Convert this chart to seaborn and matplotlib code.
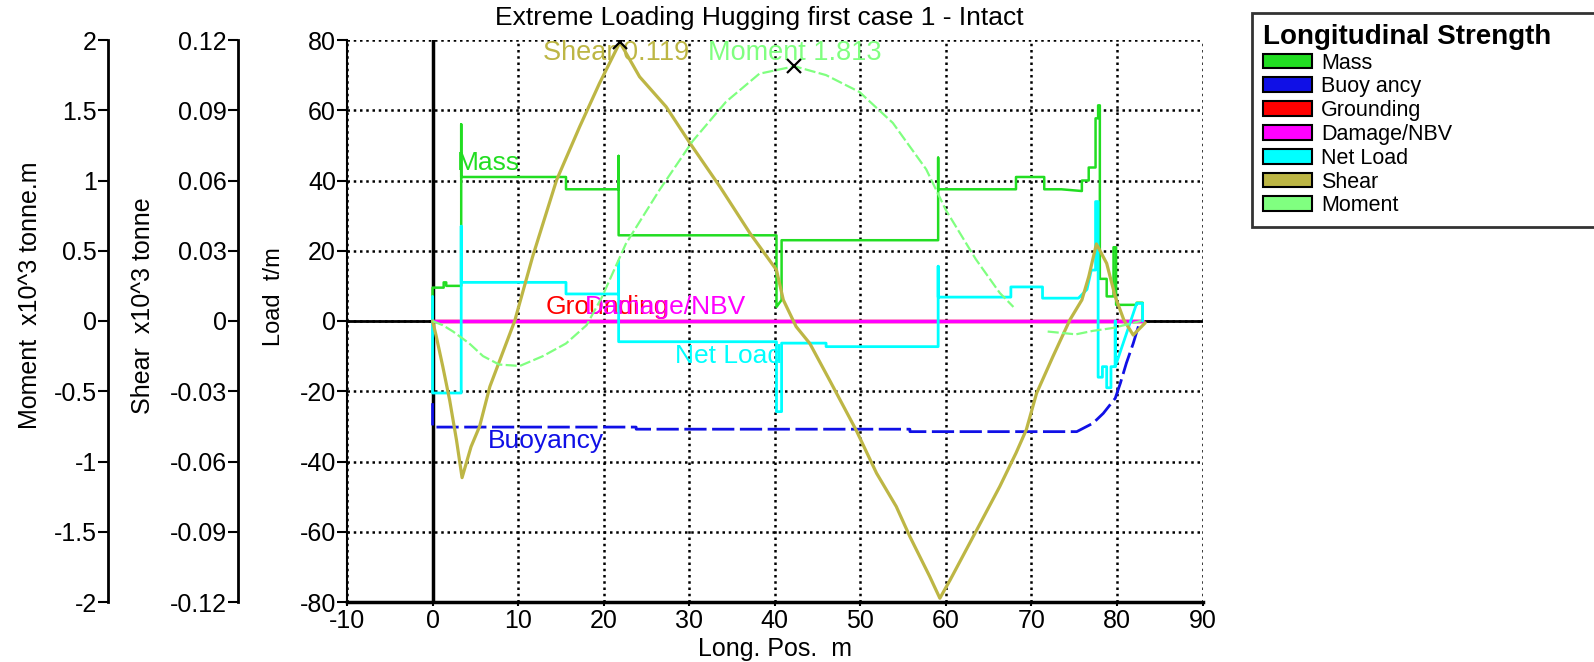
import matplotlib
matplotlib.use('Agg')
import matplotlib.pyplot as plt
from matplotlib.patches import Patch
import seaborn as sns
import pandas as pd

# ---- data ----
# load curves, t/m
mass_x = [0, 0, 1.3, 1.3, 1.6, 1.6, 3.35, 3.35, 3.35, 15.6, 15.6, 21.75, 21.75, 21.75,
          40.2, 40.2, 40.8, 40.8, 59.1, 59.1, 59.1, 68.2, 68.2, 71.5, 71.5, 73.5, 75.9, 75.9,
          76.7, 76.7, 77.5, 77.5, 77.8, 77.8, 78.0, 78.0, 78.8, 78.8, 79.6, 79.6, 79.9, 79.9,
          82.3, 82.3, 83.0, 83.0]
mass_y = [0, 9.5, 9.5, 11, 11, 10, 10, 56, 41, 41, 37.5, 37.5, 47, 24.4,
          24.4, 4, 6, 23, 23, 46.5, 37.5, 37.5, 41, 41, 37.5, 37.5, 37, 40,
          40, 43.7, 43.7, 57.7, 57.7, 61.4, 61.4, 12, 12, 7, 7, 21, 21, 4.6,
          4.6, 5.2, 5.2, 0]

buoy_x = [0, 0, 23.8, 23.8, 55.8, 55.8, 75.3, 77.2, 78.4, 79.8, 80.4, 81.1, 81.9, 82.5, 82.7]
buoy_y = [-23.4, -30.2, -30.2, -30.8, -30.8, -31.5, -31.5, -29.1, -26.3, -22, -17.7, -12, -6.4, -1.6, 0]

ground_x = [0, 83]
ground_y = [0, 0]
damage_x = [0, 83]
damage_y = [0, 0]

net_x = [0, 0, 3.35, 3.35, 3.35, 15.6, 15.6, 21.75, 21.75, 21.75, 40.2, 40.2, 40.8, 40.8,
         46.0, 46.0, 59.1, 59.1, 59.1, 67.6, 67.6, 71.3, 71.3, 75.5, 76.5, 77.0, 77.5, 77.5,
         77.8, 77.8, 78.3, 78.3, 78.8, 78.8, 79.3, 79.3, 79.8, 79.8, 79.8, 82.3, 83.0, 83.0]
net_y = [7, -20.5, -20.5, 27, 11, 11, 7.7, 7.7, 17, -5.9, -5.9, -25.8, -25.8, -6.3,
         -6.3, -7.3, -7.3, 15.6, 6.8, 6.8, 9.7, 9.7, 6.5, 6.5, 9, 14.5, 14.5, 34,
         34, -16, -16, -13, -13, -19, -19, -13, -13, 0, -13, 5, 5, 0]

# shear, x10^3 tonne
shear_x = [0, 0.4, 1.2, 2.0, 2.8, 3.45, 4.5, 5.5, 6.7, 8.2, 9.6, 11.7, 14.5, 17.2, 19.5, 21.9,
           24.2, 27.3, 30.1, 33.6, 37.1, 40.2, 41.0, 42.5, 44.1, 46.4, 49.5, 51.9, 54.2, 55.8,
           58.1, 59.3, 60.5, 63.6, 66.3, 68.2, 69.4, 70.6, 72.5, 74.5, 75.9, 76.7, 77.6, 78.8,
           79.8, 80.8, 81.9, 83.3]
shear_y = [0, -0.006, -0.0195, -0.0338, -0.0509, -0.0669, -0.0537, -0.045, -0.028, -0.0135,
           0, 0.0275, 0.0602, 0.083, 0.1014, 0.119, 0.1043, 0.0915, 0.0759, 0.0573, 0.0375,
           0.0218, 0.009, -0.0024, -0.0096, -0.0252, -0.0465, -0.065, -0.0792, -0.0921,
           -0.109, -0.1184, -0.1106, -0.0893, -0.0707, -0.0564, -0.0465, -0.0309, -0.0153,
           0.0005, 0.009, 0.0189, 0.0329, 0.0246, 0.0104, 0.0005, -0.006, -0.0008]

# moment, x10^3 tonne.m (two visible pieces)
mom_fwd_x = [0, 1.2, 2.4, 4.3, 5.9, 7.8, 10.2, 12.9, 15.6, 18.0, 19.8, 22.6, 26.5, 30.4, 34.3,
             38.2, 42.3, 46.0, 49.9, 53.8, 57.7, 60.0, 63.5, 66.3, 67.9]
mom_fwd_y = [0, -0.03, -0.075, -0.16, -0.25, -0.31, -0.32, -0.25, -0.16, -0.03, 0.17, 0.55,
             0.93, 1.28, 1.56, 1.76, 1.813, 1.75, 1.63, 1.41, 1.08, 0.79, 0.44, 0.2, 0.1]
mom_aft_x = [71.9, 75.2, 77.2, 79.5, 82.8]
mom_aft_y = [-0.075, -0.095, -0.07, -0.05, 0]

shear_max = (21.9, 0.119)
moment_max = (42.3, 1.813)

x_ticks = [-10, 0, 10, 20, 30, 40, 50, 60, 70, 80, 90]
load_ticks = [-80, -60, -40, -20, 0, 20, 40, 60, 80]
shear_ticks = [-0.12, -0.09, -0.06, -0.03, 0, 0.03, 0.06, 0.09, 0.12]
shear_labels = ['-0.12', '-0.09', '-0.06', '-0.03', '0', '0.03', '0.06', '0.09', '0.12']
moment_ticks = [-2, -1.5, -1, -0.5, 0, 0.5, 1, 1.5, 2]
moment_labels = ['-2', '-1.5', '-1', '-0.5', '0', '0.5', '1', '1.5', '2']

names = ['Mass', 'Buoyancy', 'Grounding', 'Damage/NBV', 'Net Load', 'Shear', 'Moment']
colors = ['#22dd22', '#1010e6', '#ff0000', '#ff00ff', '#00ffff', '#bdb645', '#80ff80']
legend_names = ['Mass', 'Buoy ancy', 'Grounding', 'Damage/NBV', 'Net Load', 'Shear', 'Moment']
c = dict(zip(names, colors))

sns.set_theme(style='white')
plt.rcParams['font.family'] = ['Liberation Sans', 'DejaVu Sans']
plt.rcParams['axes.unicode_minus'] = False
for k in ['text.color', 'axes.labelcolor', 'xtick.color', 'ytick.color']:
    plt.rcParams[k] = 'black'

TICK = 18

fig = plt.figure(figsize=(15.94, 6.62), dpi=100)
ax = fig.add_axes([347 / 1594, 60 / 662, 855.5 / 1594, 562 / 662])
ax.set_xlim(-10, 90)
ax.set_ylim(-80, 80)

# grid + reference lines
ax.set_xticks(x_ticks)
ax.set_yticks(load_ticks)
ax.grid(True, color='black', linestyle=(0, (1, 1.5)), linewidth=1.8)
ax.axhline(0, color='black', lw=2, zorder=1)
ax.axvline(0, color='black', lw=2.5, zorder=1)


def line(a, xs, ys, col, **kw):
    df = pd.DataFrame({'x': xs, 'y': ys})
    sns.lineplot(data=df, x='x', y='y', sort=False, estimator=None, ax=a,
                 color=col, legend=False, **kw)


line(ax, mass_x, mass_y, c['Mass'], lw=1.8)
line(ax, buoy_x, buoy_y, c['Buoyancy'], lw=2, linestyle=(0, (8, 2)))
line(ax, ground_x, ground_y, c['Grounding'], lw=2.5)
line(ax, damage_x, damage_y, c['Damage/NBV'], lw=2.5)
line(ax, net_x, net_y, c['Net Load'], lw=2)

for sp in ['top', 'right']:
    ax.spines[sp].set_visible(False)
ax.spines['left'].set_color('black')
ax.spines['left'].set_linewidth(1.5)
ax.spines['bottom'].set_color('black')
ax.spines['bottom'].set_linewidth(2.5)
ax.tick_params(axis='y', direction='out', length=7, width=1.5, labelsize=TICK, pad=1, left=True)
ax.tick_params(axis='x', direction='out', length=3, width=1.5, labelsize=TICK, pad=2, bottom=True)
ax.set_xlabel('Long. Pos.  m', fontsize=TICK, labelpad=3)
ax.set_ylabel('Load  t/m', fontsize=17)
ax.yaxis.set_label_coords(-0.073, 0.543)

# shear axis
ax_s = ax.twinx()
ax_s.set_ylim(-0.12, 0.12)
ax_s.yaxis.tick_left()
ax_s.yaxis.set_label_position('left')
ax_s.spines['left'].set_position(('axes', -0.1274))
for sp in ['top', 'right', 'bottom']:
    ax_s.spines[sp].set_visible(False)
ax_s.spines['left'].set_visible(True)
ax_s.spines['left'].set_color('black')
ax_s.spines['left'].set_linewidth(2)
ax_s.set_yticks(shear_ticks)
ax_s.set_yticklabels(shear_labels)
ax_s.tick_params(axis='y', direction='out', length=7, width=1.5, labelsize=TICK, pad=1, left=True)
ax_s.set_ylabel('Shear  x10^3 tonne', fontsize=18)
ax_s.yaxis.set_label_coords(-0.225, 0.528)
line(ax_s, shear_x, shear_y, c['Shear'], lw=2.3)
ax_s.plot(*shear_max, marker='x', color='black', ms=10, mew=1.6)

# moment axis
ax_m = ax.twinx()
ax_m.set_ylim(-2, 2)
ax_m.yaxis.tick_left()
ax_m.yaxis.set_label_position('left')
ax_m.spines['left'].set_position(('axes', -0.2794))
for sp in ['top', 'right', 'bottom']:
    ax_m.spines[sp].set_visible(False)
ax_m.spines['left'].set_visible(True)
ax_m.spines['left'].set_color('black')
ax_m.spines['left'].set_linewidth(2)
ax_m.set_yticks(moment_ticks)
ax_m.set_yticklabels(moment_labels)
ax_m.tick_params(axis='y', direction='out', length=7, width=1.5, labelsize=TICK, pad=1, left=True)
ax_m.set_ylabel('Moment  x10^3 tonne.m', fontsize=18)
ax_m.yaxis.set_label_coords(-0.357, 0.545)
line(ax_m, mom_fwd_x, mom_fwd_y, c['Moment'], lw=1.6, linestyle=(0, (5, 1.5)))
line(ax_m, mom_aft_x, mom_aft_y, c['Moment'], lw=1.6, linestyle=(0, (5, 1.5)))
ax_m.plot(*moment_max, marker='x', color='black', ms=10, mew=1.6)

# curve labels
ax.text(2.8, 45, 'Mass', color=c['Mass'], fontsize=19, va='center')
ax.text(6.5, -34.3, 'Buoyancy', color=c['Buoyancy'], fontsize=19, va='center')
ax.text(13.2, 4, 'Grounding', color=c['Grounding'], fontsize=19, va='center')
ax.text(17.8, 4, 'Damage/NBV', color=c['Damage/NBV'], fontsize=19, va='center')
ax.text(28.3, -10, 'Net Load', color=c['Net Load'], fontsize=19, va='center')
ax.text(12.9, 76.2, 'Shear 0.119', color=c['Shear'], fontsize=19.5, va='center')
ax.text(32.2, 76.2, 'Moment 1.813', color=c['Moment'], fontsize=19.5, va='center')

fig.text(759.5 / 1594, 1 - 18 / 662, 'Extreme Loading Hugging first case 1 - Intact',
         ha='center', va='center', fontsize=19, color='black')

handles = [Patch(facecolor=col, edgecolor='black', linewidth=1.5) for col in colors]
leg = fig.legend(handles, legend_names, title='Longitudinal Strength', loc='upper left',
                 bbox_to_anchor=(1252 / 1594, 1 - 13 / 662 - 0.01, 420 / 1594, 0.01),
                 mode='expand', frameon=True, fancybox=False, edgecolor='black',
                 fontsize=15.5, handlelength=2.3, handleheight=0.67, labelspacing=0.13,
                 borderaxespad=0, borderpad=0.5, handletextpad=0.4, alignment='left',
                 title_fontproperties={'weight': 'bold', 'size': 20})
leg.get_frame().set_linewidth(2)

fig.savefig('out.png', dpi=100)
